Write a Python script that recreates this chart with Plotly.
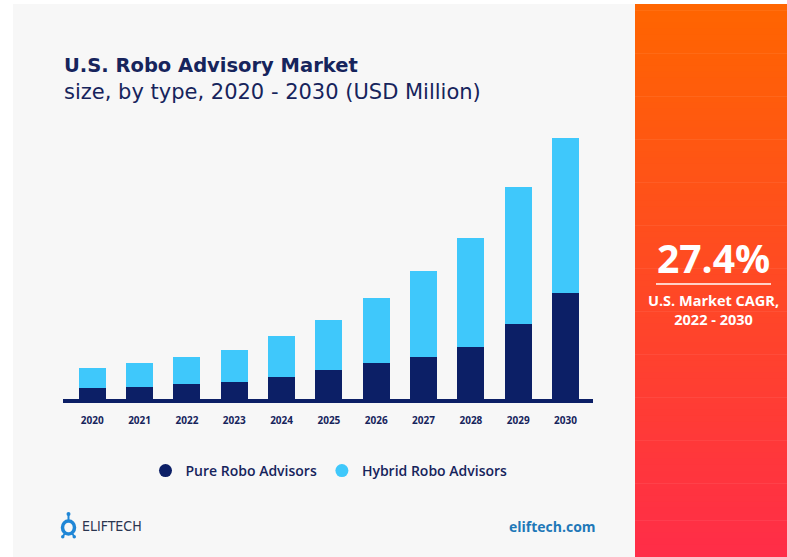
import plotly.graph_objects as go

# ---- data (USD Million) ----
years = ["2020", "2021", "2022", "2023", "2024", "2025", "2026", "2027", "2028", "2029", "2030"]
pure_robo = [123, 133, 163, 180, 227, 297, 367, 433, 527, 760, 1073]
hybrid_robo = [200, 234, 267, 323, 413, 506, 650, 857, 1096, 1367, 1550]

title_main = "U.S. Robo Advisory Market"
title_sub = "size, by type, 2020 - 2030 (USD Million)"
cagr_value = "27.4%"
cagr_label = "U.S. Market CAGR,<br>2022 - 2030"

W, H = 787, 557
NAVY = "#0c1f66"
CYAN = "#3fc8fb"
TEXT = "#16245c"


def px(x):
    return x / W


def py(y):
    return 1 - y / H


fig = go.Figure()
fig.add_trace(go.Bar(x=years, y=pure_robo, name="Pure Robo Advisors",
                     marker=dict(color=NAVY, line=dict(width=0)), showlegend=False))
fig.add_trace(go.Bar(x=years, y=hybrid_robo, name="Hybrid Robo Advisors",
                     marker=dict(color=CYAN, line=dict(width=0)), showlegend=False))
# legend entries with round markers
fig.add_trace(go.Scatter(x=[None], y=[None], mode="markers", name="Pure Robo Advisors",
                         marker=dict(color=NAVY, size=13, symbol="circle")))
fig.add_trace(go.Scatter(x=[None], y=[None], mode="markers", name="Hybrid Robo Advisors",
                         marker=dict(color=CYAN, size=13, symbol="circle")))

shapes = []
# light panel
shapes.append(dict(type="rect", xref="paper", yref="paper", x0=px(13), x1=px(635),
                   y0=py(557), y1=py(4), fillcolor="#f7f7f7", line=dict(width=0), layer="below"))
# gradient panel (strips)
n = 90
top = (255, 101, 0)
bot = (255, 45, 72)
y_top, y_bot = 4, 557
for i in range(n):
    t = i / (n - 1)
    c = tuple(round(top[k] + (bot[k] - top[k]) * t) for k in range(3))
    ya = y_top + (y_bot - y_top) * i / n
    yb = y_top + (y_bot - y_top) * (i + 1) / n + 0.6
    shapes.append(dict(type="rect", xref="paper", yref="paper", x0=px(635), x1=px(787),
                       y0=py(min(yb, 557)), y1=py(ya), fillcolor="rgb(%d,%d,%d)" % c,
                       line=dict(width=0), layer="below"))
# baseline
shapes.append(dict(type="line", xref="paper", yref="paper", x0=px(63), x1=px(593),
                   y0=py(401), y1=py(401), line=dict(color=NAVY, width=4), layer="above"))
# CAGR divider line
shapes.append(dict(type="line", xref="paper", yref="paper", x0=px(656), x1=px(771),
                   y0=py(284), y1=py(284), line=dict(color="white", width=1.5)))
# ELIFTECH logo icon
LOGO = "#1f86d6"
shapes.append(dict(type="line", xref="paper", yref="paper", x0=px(68.5), x1=px(68.5),
                   y0=py(514), y1=py(522), line=dict(color=LOGO, width=2)))
shapes.append(dict(type="circle", xref="paper", yref="paper", x0=px(66.5), x1=px(70.5),
                   y0=py(516), y1=py(512), fillcolor=LOGO, line=dict(width=0)))
shapes.append(dict(type="line", xref="paper", yref="paper", x0=px(63), x1=px(66),
                   y0=py(536), y1=py(532), line=dict(color=LOGO, width=2)))
shapes.append(dict(type="line", xref="paper", yref="paper", x0=px(74), x1=px(71),
                   y0=py(536), y1=py(532), line=dict(color=LOGO, width=2)))
shapes.append(dict(type="circle", xref="paper", yref="paper", x0=px(61), x1=px(64.5),
                   y0=py(538.5), y1=py(535), fillcolor=LOGO, line=dict(width=0)))
shapes.append(dict(type="circle", xref="paper", yref="paper", x0=px(72.5), x1=px(76),
                   y0=py(538.5), y1=py(535), fillcolor=LOGO, line=dict(width=0)))
shapes.append(dict(type="circle", xref="paper", yref="paper", x0=px(62.5), x1=px(74.5),
                   y0=py(534), y1=py(521), fillcolor="rgba(0,0,0,0)",
                   line=dict(color=LOGO, width=3.5)))

annotations = [
    dict(text="<b>" + title_main + "</b>", x=px(62), y=py(65), xref="paper", yref="paper",
         xanchor="left", yanchor="middle", showarrow=False,
         font=dict(family="DejaVu Sans", size=19.5, color=TEXT)),
    dict(text=title_sub, x=px(62), y=py(92), xref="paper", yref="paper",
         xanchor="left", yanchor="middle", showarrow=False,
         font=dict(family="DejaVu Sans", size=21, color=TEXT)),
    dict(text="<b>" + cagr_value + "</b>", x=px(713), y=py(257), xref="paper", yref="paper",
         xanchor="center", yanchor="middle", showarrow=False,
         font=dict(family="Open Sans", size=39, color="white")),
    dict(text="<b>" + cagr_label + "</b>", x=px(713), y=py(310), xref="paper", yref="paper",
         xanchor="center", yanchor="middle", showarrow=False,
         font=dict(family="Open Sans", size=14.5, color="white")),
    dict(text="ELIFTECH", x=px(80), y=py(526), xref="paper", yref="paper",
         xanchor="left", yanchor="middle", showarrow=False,
         font=dict(family="DejaVu Sans Condensed, Roboto", size=14, color="#2a3550", weight=300)),
    dict(text="<b>eliftech.com</b>", x=px(598), y=py(526), xref="paper", yref="paper",
         xanchor="right", yanchor="middle", showarrow=False,
         font=dict(family="Open Sans", size=14, color="#1e78b8")),
]

fig.update_layout(
    width=W, height=H,
    margin=dict(l=0, r=0, t=0, b=0),
    paper_bgcolor="white",
    plot_bgcolor="rgba(0,0,0,0)",
    barmode="stack",
    bargap=0.43,
    shapes=shapes,
    annotations=annotations,
    showlegend=True,
    legend=dict(orientation="h", x=px(329), xanchor="center", y=py(471), yanchor="middle",
                bgcolor="rgba(0,0,0,0)", font=dict(family="Open Sans", size=14, color=TEXT, weight=600),
                itemwidth=30, traceorder="normal"),
    xaxis=dict(domain=[px(68.6), px(589.2)], type="category", showgrid=False, zeroline=False,
               showline=False, ticks="outside", ticklen=11, tickcolor="rgba(0,0,0,0)",
               tickfont=dict(family="Open Sans", size=10, color=TEXT, weight=700), fixedrange=True),
    yaxis=dict(domain=[py(400), py(100)], range=[0, 3000], showgrid=False, zeroline=False,
               showline=False, showticklabels=False, ticks="", fixedrange=True),
)

fig.write_html("out.html", config={"displayModeBar": False},
               post_script="document.body.style.margin='0px';")
